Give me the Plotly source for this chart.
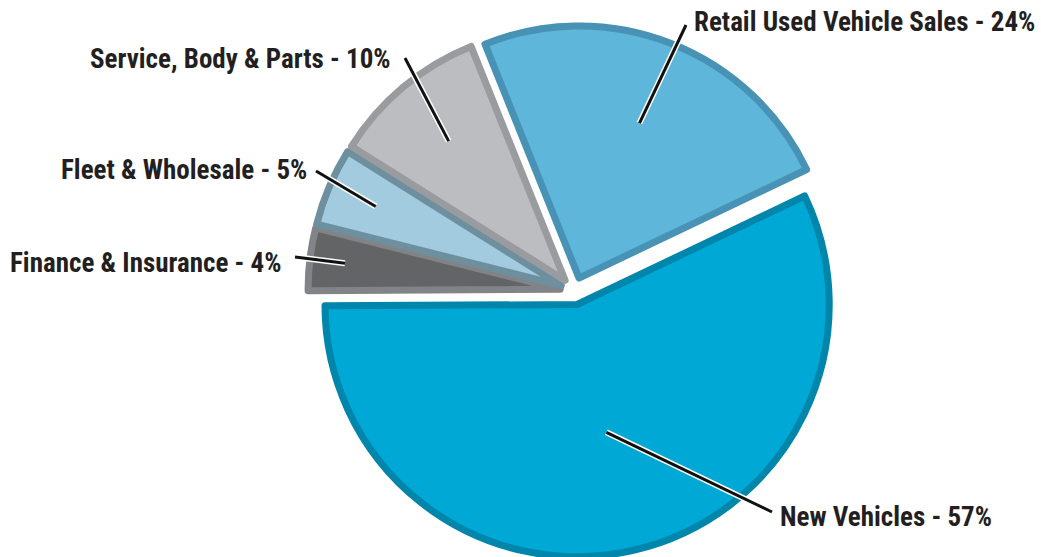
import math
import plotly.graph_objects as go

# ---- data ----
labels = ["New Vehicles", "Finance & Insurance", "Fleet & Wholesale",
          "Service, Body & Parts", "Retail Used Vehicle Sales"]
values = [57, 4, 5, 10, 24]

# ---- style ----
fill_colors = ["#00A8D6", "#636466", "#A3CBDF", "#BCBDC0", "#5EB6DA"]
rim_colors = ["#0085AB", "#828386", "#6E8F9E", "#9A9B9F", "#4893B5"]

W, H = 1041, 557
cx, cy = 574, 291          # pie centre in pixels (from top-left)
half = H - cy              # half of the domain size in pixels
pull = 0.055
rotation = 64.5
R = half / (1 + pull)

FONT = "Roboto Condensed, Noto Sans Condensed, DejaVu Sans Condensed, Liberation Sans Narrow, Roboto, sans-serif"

# label placement (pixels): x, y, anchor, leader end, anchor depth (fraction of R)
label_layout = [
    dict(x=778, y=517, xanchor="left", lx=772, ly=512, depth=0.52),
    dict(x=283, y=263, xanchor="right", lx=295, ly=257, depth=0.86),
    dict(x=309, y=170, xanchor="right", lx=316, ly=171, depth=0.80),
    dict(x=393, y=59, xanchor="right", lx=405, ly=58, depth=0.72),
    dict(x=692, y=22, xanchor="left", lx=686, ly=25, depth=0.66),
]

fig = go.Figure()
fig.add_trace(go.Pie(
    labels=labels, values=values, sort=False, direction="clockwise",
    rotation=rotation, pull=[pull] * len(values),
    marker=dict(colors=fill_colors, line=dict(color=rim_colors, width=7)),
    textinfo="none", hoverinfo="skip", showlegend=False,
    domain=dict(x=[(cx - half) / W, (cx + half) / W], y=[0, 2 * half / H]),
))

def px_to_paper(px, py):
    return px / W, 1 - py / H

total = sum(values)
angle = rotation  # degrees clockwise from 12 o'clock
shapes = []
annotations = []
for lab, val, lay in zip(labels, values, label_layout):
    span = 360 * val / total
    mid = math.radians(angle + span / 2)
    angle += span
    dist = (pull + lay["depth"]) * R
    ax_ = cx + dist * math.sin(mid)
    ay_ = cy - dist * math.cos(mid)
    x0, y0 = px_to_paper(lay["lx"], lay["ly"])
    x1, y1 = px_to_paper(ax_, ay_)
    shapes.append(dict(type="line", xref="paper", yref="paper", x0=x0, y0=y0,
                       x1=x1, y1=y1, line=dict(color="white", width=6)))
    shapes.append(dict(type="line", xref="paper", yref="paper", x0=x0, y0=y0,
                       x1=x1, y1=y1, line=dict(color="#111111", width=3)))
    tx, ty = px_to_paper(lay["x"], lay["y"])
    pct = round(100 * val / total)
    annotations.append(dict(
        text=f"{lab} - {pct}%", x=tx, y=ty, xref="paper", yref="paper",
        xanchor=lay["xanchor"], yanchor="middle", showarrow=False,
        font=dict(family=FONT, size=27, color="#231F20", weight="bold"),
    ))

fig.update_layout(
    width=W, height=H, margin=dict(l=0, r=0, t=0, b=0),
    paper_bgcolor="white", plot_bgcolor="white",
    shapes=shapes, annotations=annotations,
)

fig.write_html("out.html")
